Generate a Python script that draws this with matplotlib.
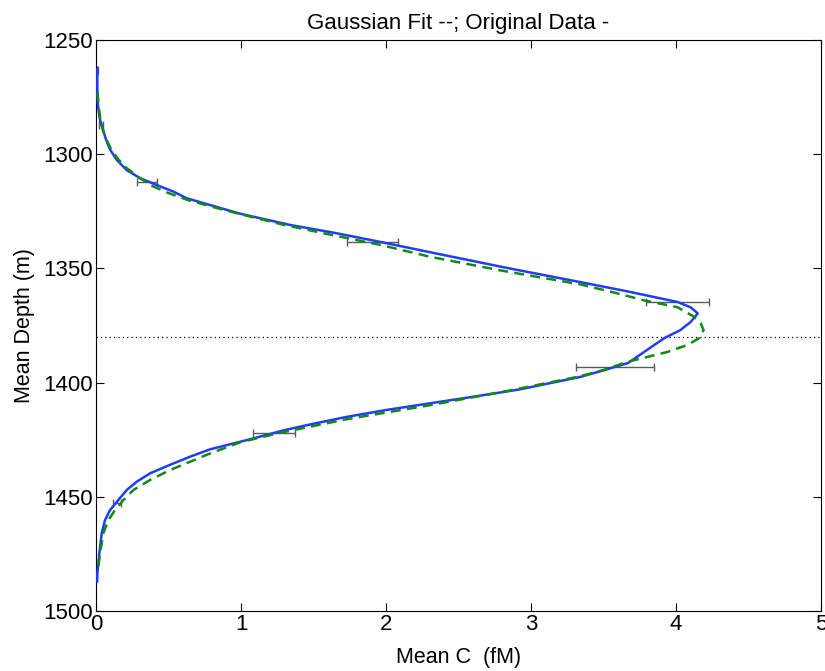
import numpy as np
import matplotlib
matplotlib.use('Agg')
import matplotlib.pyplot as plt

plt.rcParams['font.family'] = ['Liberation Sans', 'DejaVu Sans']

# original data (blue)
orig_depth = [1263, 1270, 1276, 1281, 1285, 1288.5, 1292.3, 1295.5, 1298, 1302.5, 1307, 1310.5,
              1313.5, 1316.4, 1319.3, 1322.5, 1326, 1331, 1334.5, 1338.4, 1343, 1350, 1356,
              1360, 1364.7, 1367, 1369.7, 1373.5, 1377, 1380.5, 1385.7, 1391.4, 1395, 1397.5,
              1403, 1406, 1409, 1412, 1415, 1418, 1420.8, 1425, 1429.2, 1432.4, 1436, 1439.7,
              1443.4, 1447, 1451.4, 1455.8, 1460.2, 1466, 1474.7, 1483.5, 1487]
orig_conc = [0.009, 0.009, 0.01, 0.018, 0.028, 0.045, 0.062, 0.08, 0.097, 0.143, 0.212, 0.304,
             0.419, 0.534, 0.626, 0.8, 0.99, 1.34, 1.65, 1.96, 2.31, 2.85, 3.34,
             3.66, 4.01, 4.10, 4.15, 4.10, 4.03, 3.92, 3.80, 3.67, 3.48, 3.34,
             2.92, 2.62, 2.31, 2.0, 1.73, 1.5, 1.30, 1.05, 0.787, 0.65, 0.51, 0.373,
             0.281, 0.212, 0.154, 0.097, 0.062, 0.039, 0.023, 0.009, 0.007]

# gaussian fit (green dashed)
fit_depth = [1273, 1279, 1285, 1290, 1294, 1298, 1302, 1306, 1310, 1314, 1317, 1320, 1323,
             1326, 1331, 1335, 1339.7, 1345, 1351, 1357, 1361, 1364, 1367, 1371, 1374, 1377,
             1380.5, 1383.5, 1386.6, 1388.8, 1391, 1394.5, 1397.5, 1403.5, 1409.8, 1416,
             1422, 1426, 1431, 1434.6, 1438.3, 1442.6, 1447, 1451.4, 1455.8, 1460.2, 1466,
             1474.7, 1480.6]
fit_conc = [0.01, 0.018, 0.03, 0.05, 0.075, 0.105, 0.15, 0.21, 0.29, 0.39, 0.5, 0.63, 0.8,
            0.98, 1.30, 1.60, 1.96, 2.31, 2.80, 3.34, 3.60, 3.78, 4.01, 4.12, 4.17, 4.19,
            4.16, 4.08, 3.94, 3.80, 3.66, 3.50, 3.32, 2.85, 2.31, 1.73,
            1.27, 1.0, 0.787, 0.65, 0.51, 0.373, 0.258, 0.189, 0.131, 0.085, 0.05,
            0.028, 0.016]

# error bars
err_depth = [1263, 1287, 1312.3, 1338.5, 1364.7, 1393, 1422, 1452.8, 1485.5]
err_mean = [0.01, 0.037, 0.35, 1.905, 4.01, 3.58, 1.225, 0.143, 0.005]
err_size = [0.006, 0.014, 0.07, 0.175, 0.22, 0.27, 0.145, 0.028, 0.005]

peak_depth = 1380

fig = plt.figure(figsize=(8.25, 6.71), dpi=100)
ax = fig.add_axes([0.1164, 0.0894, 0.8788, 0.851])

ax.errorbar(err_mean, err_depth, xerr=err_size, fmt='none', ecolor='#5a5a5a',
            elinewidth=1, capsize=3, capthick=1, zorder=2)
ax.plot(orig_conc, orig_depth, '-', color='#1f3cff', lw=1.8, zorder=3)
ax.plot(fit_conc, fit_depth, '--', color='#108a10', lw=1.8, dashes=(4, 2.5), zorder=4)
ax.axhline(peak_depth, color='k', lw=0.9, ls=(0, (1, 2.5)), zorder=1)

ax.set_xlim(0, 5)
ax.set_ylim(1500, 1250)
ax.set_xticks(np.arange(0, 6, 1))
ax.set_yticks(np.arange(1250, 1501, 50))
ax.tick_params(direction='in', length=6, width=0.8, top=True, right=True,
               labelsize=16, pad=2)
for s in ax.spines.values():
    s.set_linewidth(0.8)

ax.set_title('Gaussian Fit --; Original Data -', fontsize=16, pad=8)
ax.set_xlabel('Mean C  (fM)', fontsize=15.5, labelpad=9)
ax.set_ylabel('Mean Depth (m)', fontsize=15.5, labelpad=6)

fig.savefig('out.png', dpi=100)
